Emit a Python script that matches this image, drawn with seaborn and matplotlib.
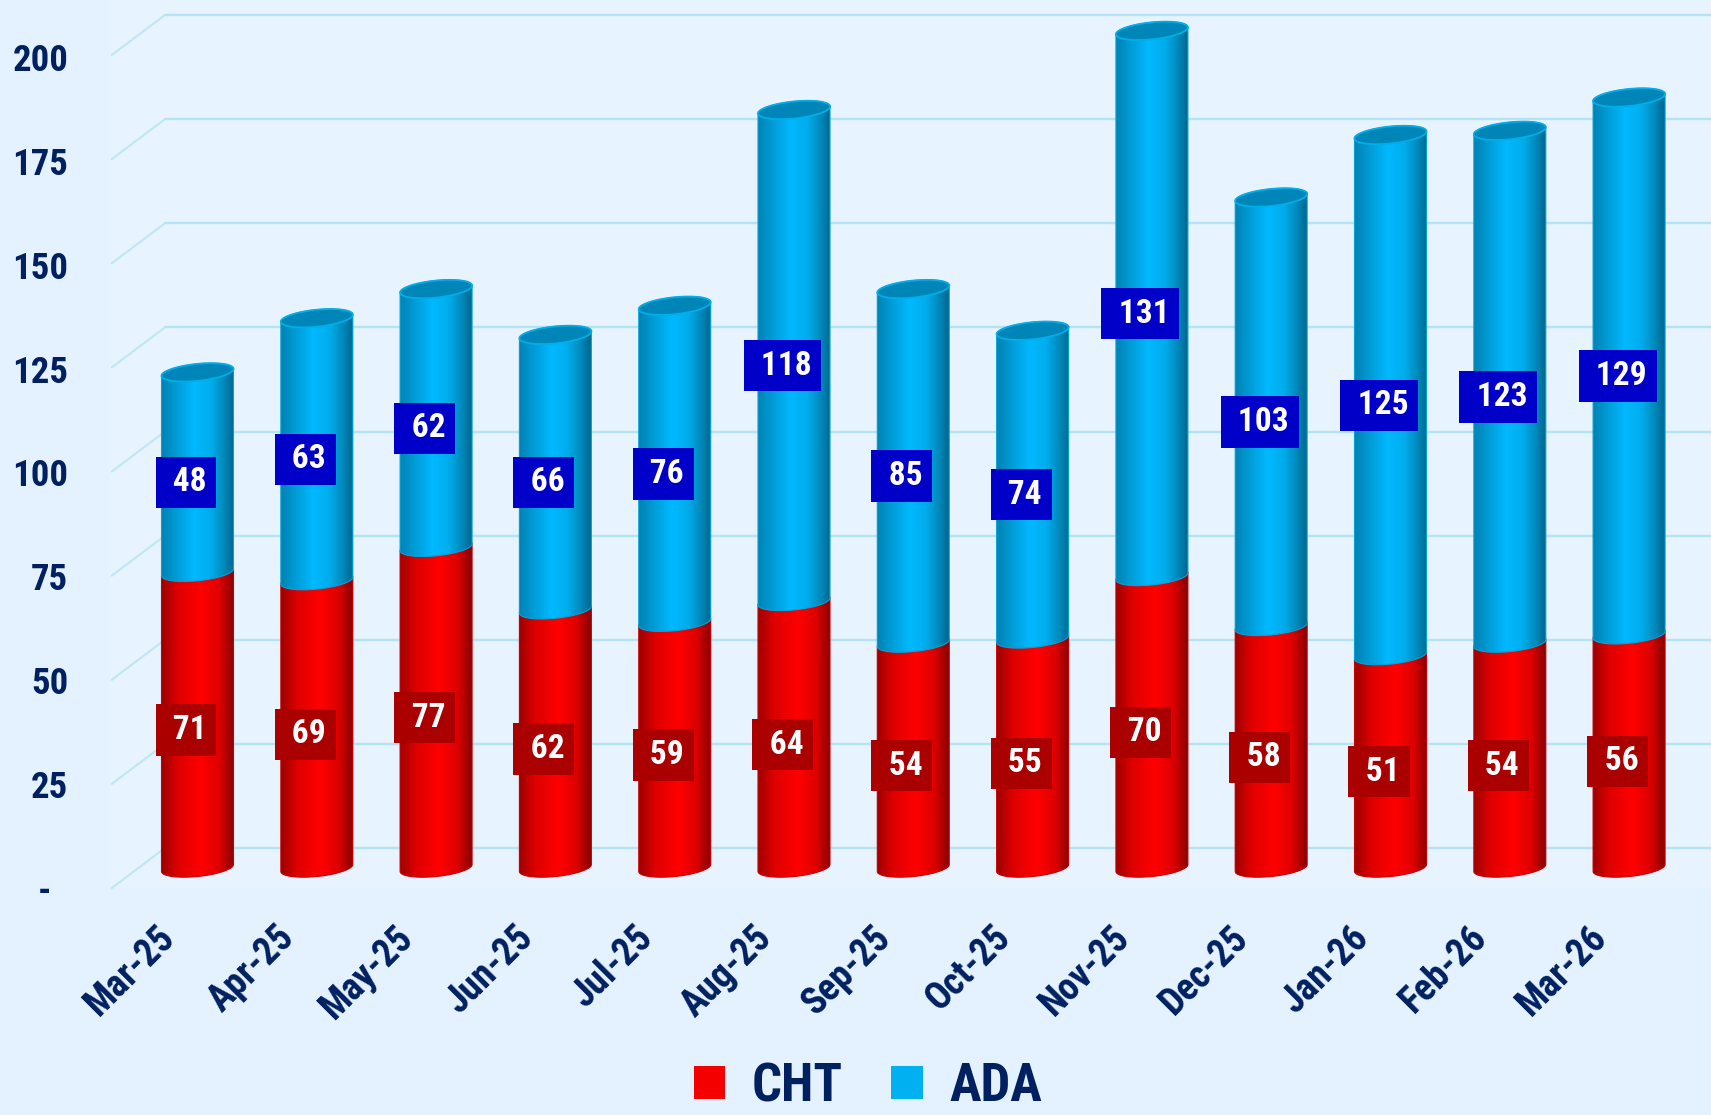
import numpy as np
import pandas as pd
import matplotlib
matplotlib.use("Agg")
import matplotlib.pyplot as plt
import seaborn as sns
from matplotlib.colors import LinearSegmentedColormap
from matplotlib.patches import Patch, PathPatch
from matplotlib.path import Path
from matplotlib.transforms import ScaledTranslation

months = ["Mar-25", "Apr-25", "May-25", "Jun-25", "Jul-25", "Aug-25", "Sep-25",
          "Oct-25", "Nov-25", "Dec-25", "Jan-26", "Feb-26", "Mar-26"]
cht = [71, 69, 77, 62, 59, 64, 54, 55, 70, 58, 51, 54, 56]
ada = [48, 63, 62, 66, 76, 118, 85, 74, 131, 103, 125, 123, 129]
y_ticks = [0, 25, 50, 75, 100, 125, 150, 175, 200]
y_tick_labels = ["-  ", "25", "50", "75", "100", "125", "150", "175", "200"]

W, H, DPI = 1711, 1115, 100
NAVY = "#002060"
BG = "#E4F1FE"
FONT = ["Roboto Condensed", "Liberation Sans", "DejaVu Sans"]

sns.set_theme(style="white")
plt.rcParams["font.family"] = FONT
plt.rcParams["font.weight"] = "bold"

df = pd.DataFrame({"month": months, "CHT": cht, "ADA": ada})

fig = plt.figure(figsize=(W / DPI, H / DPI), dpi=DPI, facecolor=BG)

# main plane: bars; px geometry of the plot
LEFT, BOTTOM_PX = 110, 888
X0_PX, STEP_PX = 197.5, 119.3
Y0_PX, PER_UNIT = 868, 4.165
ax = fig.add_axes([LEFT / W, (H - BOTTOM_PX) / H, (W - LEFT) / W, BOTTOM_PX / H])
ax.set_facecolor("#E7F3FE")
ax.set_zorder(2)

BAR_W = 72 / STEP_PX
sns.barplot(data=df, x="month", y="CHT", color="#FF0000", width=BAR_W, ax=ax,
            saturation=1, zorder=3)
sns.barplot(data=df, x="month", y="ADA", color="#00B0F0", width=BAR_W, ax=ax,
            saturation=1, zorder=5, bottom=df["CHT"].to_numpy())

xlim = ((LEFT - X0_PX) / STEP_PX, (W - X0_PX) / STEP_PX)
ylim = ((Y0_PX - BOTTOM_PX) / PER_UNIT, Y0_PX / PER_UNIT)

# 3D-style gridlines: back wall plus a short diagonal toward the front
depth = (Y0_PX - BOTTOM_PX) / PER_UNIT
back_x = (165 - X0_PX) / STEP_PX
for v in y_ticks:
    ax.plot([back_x, xlim[1]], [v - depth, v - depth], color="#B2E4F6", lw=1.7,
            zorder=1, clip_on=False, solid_capstyle="round")
    ax.plot([xlim[0] + 0.015, back_x], [v + depth, v - depth], color="#BFE7F2", lw=1.5,
            zorder=1, clip_on=False, solid_capstyle="round")

blue_cmap = LinearSegmentedColormap.from_list(
    "cyl_b", [(0, "#0082B4"), (0.2, "#009CD6"), (0.45, "#00B9FF"), (0.68, "#00ADEC"),
              (0.88, "#0085B6"), (1, "#00668F")])
red_cmap = LinearSegmentedColormap.from_list(
    "cyl_r", [(0, "#9E0000"), (0.22, "#DE0000"), (0.55, "#FF0000"), (0.8, "#DD0000"),
              (1, "#880000")])

A = BAR_W / 2
TILT = 3.5 / PER_UNIT
B = 8.5 / PER_UNIT


def arc(cx, cy, t0, t1, n=40):
    t = np.linspace(t0, t1, n)
    return np.column_stack([cx + A * np.cos(t), cy + TILT * np.cos(t) + B * np.sin(t)])


def cylinder(cx, y0, y1):
    # front bottom arc left -> right, then back arc of the top right -> left
    pts = np.vstack([arc(cx, y0, np.pi, 2 * np.pi), arc(cx, y1, 0, np.pi)])
    return Path(np.vstack([pts, pts[0]]), closed=True)


grad = np.linspace(0, 1, 128).reshape(1, -1)
n = len(months)
red_bars = ax.patches[:n]
blue_bars = ax.patches[n:]
for bars, cmap, edge, zo in [(red_bars, red_cmap, "#C80000", 3), (blue_bars, blue_cmap, "#00A4D6", 5)]:
    for bar in bars:
        cx = bar.get_x() + bar.get_width() / 2
        y0, y1 = bar.get_y(), bar.get_y() + bar.get_height()
        path = cylinder(cx, y0, y1)
        outline = PathPatch(path, transform=ax.transData, fc="none", ec=edge, lw=0.8, zorder=zo + 0.2)
        ax.add_patch(outline)
        bar.set_clip_path(path, ax.transData)
        bar.set_linewidth(0)
        im = ax.imshow(grad, cmap=cmap, aspect="auto", zorder=zo + 0.1, interpolation="bilinear",
                       extent=(cx - A, cx + A, y0 - 4, y1 + 4))
        im.set_clip_path(path, ax.transData)
        if zo == 5:
            cap = arc(cx, y1, 0, 2 * np.pi, 80)
            ax.add_patch(PathPatch(Path(cap, closed=True), fc="#0085B8", ec="#00AEE8", lw=1.3, zorder=zo + 0.3))

ax.set_xlim(*xlim)
ax.set_ylim(*ylim)
ax.set_xlabel("")
ax.set_ylabel("")
for s in ax.spines.values():
    s.set_visible(False)
ax.set_yticks([])
ax.tick_params(axis="x", length=0, pad=0)
ax.set_xticks(range(n), months)
offset = ScaledTranslation(-28 / DPI, -44 / DPI, fig.dpi_scale_trans)
for lab in ax.get_xticklabels():
    lab.set(rotation=45, ha="right", va="center", rotation_mode="anchor",
            fontsize=27, fontweight="bold", color=NAVY, family=FONT)
    lab.set_transform(lab.get_transform() + offset)

# stacked value labels
for container, vals, fc in [(ax.containers[0], cht, "#AA0000"), (ax.containers[1], ada, "#0000C8")]:
    anns = ax.bar_label(container, labels=[f" {v}" for v in vals], label_type="center",
                        color="white", fontsize=24, fontweight="bold", family=FONT, zorder=8,
                        bbox=dict(boxstyle="square,pad=0.29", fc=fc, ec="none"))
    for a in anns:
        a.xyann = (-11.5 * 72 / DPI, -10 * 72 / DPI)
        a.set_zorder(8)
        a.set_clip_on(False)

# axis labels live on the front plane, slightly below the bar plane
tick_ax = fig.add_axes([LEFT / W, (H - BOTTOM_PX) / H, (W - LEFT) / W, (200 * 4.155) / H])
tick_ax.patch.set_visible(False)
tick_ax.set_zorder(3)
tick_ax.set_ylim(0, 200)
tick_ax.set_xticks([])
tick_ax.set_yticks(y_ticks, y_tick_labels)
tick_ax.tick_params(axis="y", length=0, pad=30)
for lab in tick_ax.get_yticklabels():
    lab.set(fontsize=26.5, fontweight="bold", color=NAVY, family=FONT)
for s in tick_ax.spines.values():
    s.set_visible(False)

handles = [Patch(fc="#F50000", ec="none", label="CHT"), Patch(fc="#00B0F0", ec="none", label="ADA")]
fig.legend(handles=handles, loc="lower center", bbox_to_anchor=(868 / W, -0.021), ncol=2, frameon=False,
           handlelength=0.6, handleheight=0.6, handletextpad=0.5, columnspacing=0.92,
           prop=dict(family=FONT, weight="bold", size=38), labelcolor=NAVY, borderpad=0.0)

fig.savefig("out.png", dpi=DPI, facecolor=BG)
